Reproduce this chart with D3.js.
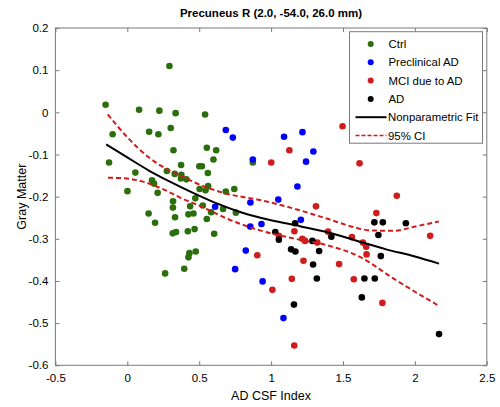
<!DOCTYPE html>
<html>
<head>
<meta charset="utf-8">
<title>Precuneus R</title>
<style>
  body { margin: 0; background: #fff; }
  text { font-family: "Liberation Sans", Arial, sans-serif; }
</style>
</head>
<body>
<script src="https://cdn.jsdelivr.net/npm/d3@7"></script>
<script>

// data: [AD CSF Index, Gray Matter]
var ctrl = [
  [-0.151,0.018],[0.293,0.110],[0.082,0.006],[0.223,0.004],[0.336,-0.002],[0.541,-0.005],
  [-0.102,-0.052],[0.152,-0.046],[0.216,-0.052],[0.302,-0.037],[0.321,-0.090],[0.553,-0.084],
  [0.618,-0.090],[0.599,-0.112],[-0.127,-0.119],[0.873,-0.119],[0.374,-0.125],[0.501,-0.128],
  [0.519,-0.128],[0.056,-0.143],[0.275,-0.139],[0.330,-0.146],[0.376,-0.148],[0.560,-0.144],
  [0.373,-0.157],[0.411,-0.159],[0.172,-0.161],[0.186,-0.169],[0.562,-0.175],[0.503,-0.182],
  [0.544,-0.185],[0.744,-0.182],[0.685,-0.188],[0.001,-0.187],[0.211,-0.191],[0.473,-0.204],
  [0.318,-0.211],[0.317,-0.226],[0.437,-0.223],[0.525,-0.221],[0.583,-0.237],[0.666,-0.229],
  [0.755,-0.238],[0.148,-0.240],[0.332,-0.249],[0.425,-0.242],[0.460,-0.240],[0.553,-0.253],
  [0.193,-0.262],[0.316,-0.287],[0.339,-0.284],[0.421,-0.282],[0.468,-0.277],[0.604,-0.288],
  [0.476,-0.330],[0.432,-0.334],[0.425,-0.344],[0.396,-0.371],[0.263,-0.382]
];

var preclinical = [
  [0.685,-0.042],[0.734,-0.060],[1.090,-0.058],[1.218,-0.047],[1.294,-0.093],[1.243,-0.117],
  [0.873,-0.112],[1.183,-0.176],[1.050,-0.207],[0.856,-0.214],[0.611,-0.224],[0.855,-0.271],
  [0.933,-0.265],[1.207,-0.255],[0.824,-0.328],[0.750,-0.372],[0.941,-0.401],[1.086,-0.488]
];

var mci = [
  [1.001,-0.119],[1.127,-0.090],[1.497,-0.033],[1.615,-0.121],[1.874,-0.198],[1.312,-0.223],
  [1.732,-0.239],[1.162,-0.282],[1.054,-0.293],[1.396,-0.283],[1.562,-0.296],[1.217,-0.300],
  [1.236,-0.305],[1.321,-0.309],[1.638,-0.309],[1.661,-0.319],[1.664,-0.337],[1.225,-0.352],
  [1.473,-0.360],[2.106,-0.293],[1.144,-0.395],[1.575,-0.396],[0.904,-0.339],[1.009,-0.421],
  [1.774,-0.452],[1.161,-0.553]
];

var ad = [
  [1.167,-0.263],[1.029,-0.284],[1.054,-0.302],[1.139,-0.325],[1.169,-0.330],[1.287,-0.305],
  [1.419,-0.295],[1.334,-0.329],[1.292,-0.361],[1.318,-0.394],[1.718,-0.261],[1.777,-0.261],
  [1.937,-0.263],[1.746,-0.291],[1.763,-0.341],[1.649,-0.394],[1.721,-0.394],[1.631,-0.439],
  [1.159,-0.456],[2.168,-0.526]
];

var fit = [
  [-0.147,-0.076],[0,-0.107],[0.15,-0.138],[0.3,-0.165],[0.45,-0.19],[0.6,-0.213],
  [0.8,-0.238],[1.0,-0.256],[1.2,-0.27],[1.4,-0.285],[1.6,-0.305],[1.8,-0.325],
  [2.0,-0.342],[2.168,-0.359]
];

var ciUpper = [
  [-0.136,-0.005],[0.008,-0.062],[0.147,-0.106],[0.286,-0.137],[0.402,-0.155],[0.46,-0.165],
  [0.692,-0.193],[0.923,-0.208],[1.155,-0.228],[1.387,-0.252],[1.572,-0.272],[1.688,-0.28],
  [1.85,-0.281],[2.013,-0.27],[2.166,-0.259]
];

var ciLower = [
  [-0.134,-0.155],[-0.003,-0.157],[0.124,-0.166],[0.24,-0.181],[0.379,-0.204],[0.518,-0.224],
  [0.692,-0.252],[0.923,-0.28],[1.155,-0.299],[1.387,-0.315],[1.619,-0.343],[1.85,-0.394],
  [2.166,-0.459]
];

var xTicks = [-0.5, 0, 0.5, 1, 1.5, 2, 2.5];
var yTicks = [0.2, 0.1, 0, -0.1, -0.2, -0.3, -0.4, -0.5, -0.6];

var groups = [
  {name: 'Ctrl',           pts: ctrl,        color: '#2b6e0c'},
  {name: 'Preclinical AD', pts: preclinical, color: '#0000ff'},
  {name: 'MCI due to AD',  pts: mci,         color: '#d01c1c'},
  {name: 'AD',             pts: ad,          color: '#000000'}
];

var W = 500, H = 407,
    mLeft = 55.4, mRight = 486.8, mTop = 28, mBottom = 365.3;

var svg = d3.select('body').append('svg')
    .attr('width', W).attr('height', H);

var x = d3.scaleLinear().domain([-0.5, 2.5]).range([mLeft, mRight]);
var y = d3.scaleLinear().domain([-0.6, 0.2]).range([mBottom, mTop]);

var axisColor = '#7a7a7a';
var plain = function(d){ return String(+d.toFixed(1)); };

// box
svg.append('rect')
   .attr('x', mLeft).attr('y', mTop)
   .attr('width', mRight - mLeft).attr('height', mBottom - mTop)
   .attr('fill', 'none').attr('stroke', axisColor).attr('stroke-width', 1);

// axes, ticks pointing inward on all sides
function styleAxis(g){
  g.select('.domain').remove();
  g.selectAll('.tick line').attr('stroke', axisColor);
  g.selectAll('.tick text').attr('fill', '#000').style('font-size', '11.5px');
}

svg.append('g').attr('transform', 'translate(0,' + mBottom + ')')
   .call(d3.axisBottom(x).tickValues(xTicks).tickSize(-4).tickPadding(9).tickFormat(plain))
   .call(styleAxis);

svg.append('g').attr('transform', 'translate(0,' + mTop + ')')
   .call(d3.axisTop(x).tickValues(xTicks).tickSize(-4).tickFormat(''))
   .call(styleAxis);

svg.append('g').attr('transform', 'translate(' + mLeft + ',0)')
   .call(d3.axisLeft(y).tickValues(yTicks).tickSize(-4).tickPadding(7).tickFormat(plain))
   .call(styleAxis);

svg.append('g').attr('transform', 'translate(' + mRight + ',0)')
   .call(d3.axisRight(y).tickValues(yTicks).tickSize(-4).tickFormat(''))
   .call(styleAxis);

// points
groups.forEach(function(gr){
  svg.append('g').selectAll('circle')
     .data(gr.pts)
     .enter()
     .append('circle')
     .attr('cx', function(d){ return x(d[0]); })
     .attr('cy', function(d){ return y(d[1]); })
     .attr('r', 3.3)
     .attr('fill', gr.color);
});

// fit + CI
var line = d3.line()
    .x(function(d){ return x(d[0]); })
    .y(function(d){ return y(d[1]); })
    .curve(d3.curveMonotoneX);

svg.append('path').datum(ciUpper).attr('d', line)
   .attr('fill', 'none').attr('stroke', '#d01c1c').attr('stroke-width', 2)
   .attr('stroke-dasharray', '5,3');
svg.append('path').datum(ciLower).attr('d', line)
   .attr('fill', 'none').attr('stroke', '#d01c1c').attr('stroke-width', 2)
   .attr('stroke-dasharray', '5,3');
svg.append('path').datum(fit).attr('d', line)
   .attr('fill', 'none').attr('stroke', '#000').attr('stroke-width', 2);

// legend
var lg = svg.append('g').attr('transform', 'translate(349.5,31.7)');
lg.append('rect').attr('width', 133).attr('height', 111.5)
  .attr('fill', '#fff').attr('stroke', axisColor);

var rowY = function(i){ return 12.3 + i * 18.3; };
groups.forEach(function(gr, i){
  lg.append('circle').attr('cx', 21.2).attr('cy', rowY(i)).attr('r', 3)
    .attr('fill', gr.color);
  lg.append('text').attr('x', 39).attr('y', rowY(i) + 4.2)
    .style('font-size', '11.4px').text(gr.name);
});
lg.append('line').attr('x1', 6).attr('x2', 37)
  .attr('y1', rowY(4)).attr('y2', rowY(4))
  .attr('stroke', '#000').attr('stroke-width', 2);
lg.append('text').attr('x', 38.5).attr('y', rowY(4) + 4.2)
  .style('font-size', '11.4px').text('Nonparametric Fit');
lg.append('line').attr('x1', 6).attr('x2', 37)
  .attr('y1', rowY(5)).attr('y2', rowY(5))
  .attr('stroke', '#d01c1c').attr('stroke-width', 1.5)
  .attr('stroke-dasharray', '4,2');
lg.append('text').attr('x', 38.5).attr('y', rowY(5) + 4.2)
  .style('font-size', '11.4px').text('95% CI');

// titles
svg.append('text').attr('x', 271).attr('y', 17).attr('text-anchor', 'middle')
   .style('font-size', '11.5px').style('font-weight', 'bold')
   .text('Precuneus R (2.0, -54.0, 26.0 mm)');

svg.append('text').attr('x', 271).attr('y', 400).attr('text-anchor', 'middle')
   .style('font-size', '12.5px').text('AD CSF Index');

svg.append('text')
   .attr('transform', 'translate(26,' + ((mTop + mBottom) / 2) + ') rotate(-90)')
   .attr('text-anchor', 'middle')
   .style('font-size', '12.5px').text('Gray Matter');

</script>
</body>
</html>
